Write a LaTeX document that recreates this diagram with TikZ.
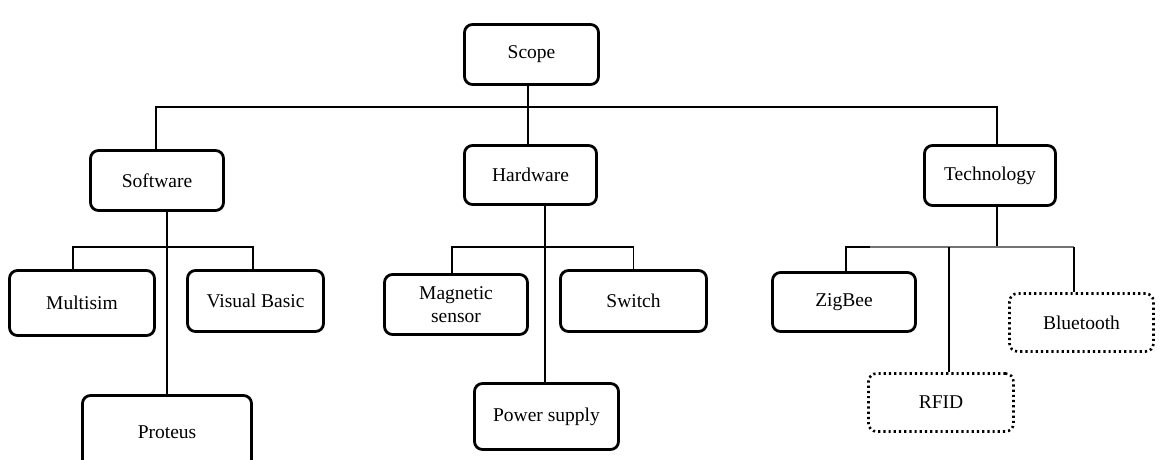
\documentclass[tikz,border=0pt]{standalone}
\usepackage{fontspec}
\setmainfont{Liberation Serif}
\begin{document}
\begin{tikzpicture}[x=1pt,y=-1pt,
  box/.style={draw=black,line width=2.8pt,rounded corners=8pt,fill=white,
    inner sep=0pt,align=center,font=\fontsize{19.5}{23}\selectfont},
  dotbox/.style={box,line width=2.6pt,dash pattern=on 2.2pt off 3pt},
  link/.style={draw=black,line width=1.5pt},
  glink/.style={draw=black!55,line width=1.8pt}]
\useasboundingbox (0,0) rectangle (1168,460);
\node[box,minimum width=134pt,minimum height=60pt] (scope) at (531.5,54.5) {Scope};
\node[box,minimum width=133pt,minimum height=60pt] (software) at (157,180.5) {Software};
\node[box,minimum width=132pt,minimum height=59pt] (hardware) at (530.5,175) {Hardware};
\node[box,minimum width=131pt,minimum height=60pt] (technology) at (990,175.5) {Technology};
\node[box,minimum width=145pt,minimum height=65pt] (multisim) at (82,303) {Multisim};
\node[box,minimum width=136pt,minimum height=61pt] (visualbasic) at (255.5,301) {Visual Basic};
\node[box,minimum width=169pt,minimum height=73pt] (proteus) at (167,432) {Proteus};
\node[box,minimum width=143pt,minimum height=60pt] (magnetic) at (456,304.5) {Magnetic\\sensor};
\node[box,minimum width=146pt,minimum height=61pt] (switch) at (633.5,301) {Switch};
\node[box,minimum width=144pt,minimum height=66pt] (power) at (546.5,416.5) {Power supply};
\node[box,minimum width=143pt,minimum height=59pt] (zigbee) at (844,302) {ZigBee};
\node[dotbox,minimum width=144pt,minimum height=58pt] (bluetooth) at (1081.5,322.5) {Bluetooth};
\node[dotbox,minimum width=145pt,minimum height=58pt] (rfid) at (941,402.5) {RFID};

% top level
\coordinate (b0) at (528,107);
\draw[link] (scope.south -| b0) -- (b0);
\draw[link] ([xshift=-1pt]software.north) |- (b0) -| ([xshift=7pt]technology.north);
\draw[link] (b0) -- (hardware.north -| b0);

% software branch
\coordinate (sw) at (167,247);
\draw[link] (software.south -| sw) -- (proteus.north -| sw);
\draw[link] ([xshift=-9pt]multisim.north) |- (sw) -| ([xshift=-2.5pt]visualbasic.north);

% hardware branch
\coordinate (hw) at (545,247);
\draw[link] (hardware.south -| hw) -- (power.north -| hw);
\draw[link] ([xshift=-4pt]magnetic.north) |- (hw) -| (switch.north);

% technology branch
\coordinate (tw) at (997,247);
\coordinate (tg) at (870,247);
\coordinate (tb) at (1074,247);
\draw[link] (technology.south -| tw) -- (tw);
\draw[link] ([xshift=2pt]zigbee.north) |- (tg);
\draw[glink] (tg) -- (tb);
\draw[link] (tb) -- (bluetooth.north -| tb);
\draw[link] ([xshift=8pt]rfid.north) -- ([xshift=8pt]rfid.north |- tw);
\end{tikzpicture}
\end{document}
